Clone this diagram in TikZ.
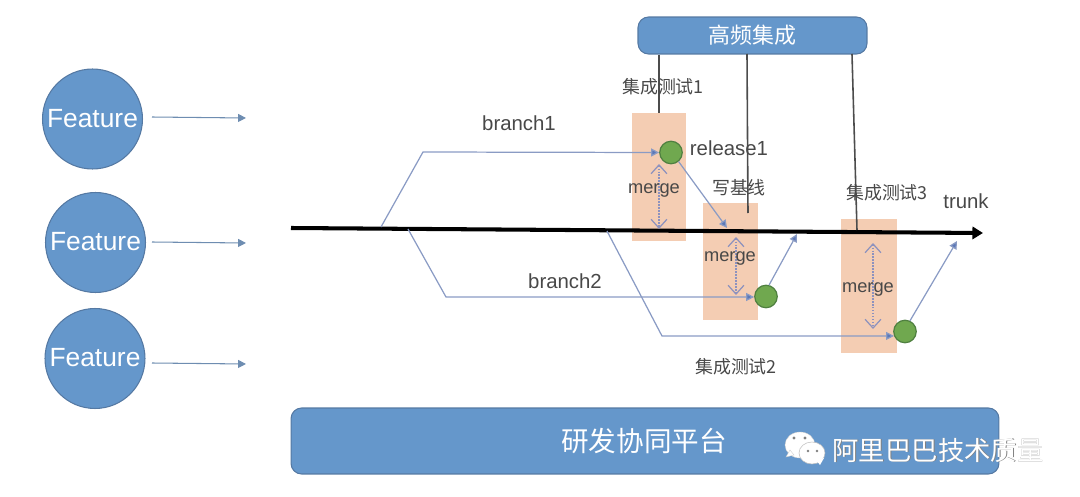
\documentclass[tikz,border=0pt]{standalone}
\usepackage{fontspec}
\setsansfont{Liberation Sans}
\newfontfamily\cjk{Noto Sans CJK SC}
\usepackage{tikz}
\usetikzlibrary{arrows.meta}
\definecolor{boxblue}{HTML}{6597CB}
\definecolor{edgeblue}{HTML}{5579A3}
\definecolor{linkblue}{HTML}{8A9BC4}
\definecolor{tipblue}{HTML}{5B78B8}
\definecolor{mergeblue}{HTML}{8D92BE}
\definecolor{mergebg}{HTML}{F4CDB3}
\definecolor{ballgreen}{HTML}{70A84F}
\definecolor{balledge}{HTML}{4F8040}
\definecolor{txtgray}{HTML}{484848}
\tikzstyle{feature} = [circle, draw=edgeblue, fill=boxblue, line width=0.6pt, minimum size=2cm, inner sep=0pt, text=white, font=\sffamily\fontsize{15}{15}\selectfont]
\tikzstyle{platform} = [rectangle, rounded corners=6pt, draw=edgeblue, fill=boxblue, line width=0.6pt, inner sep=0pt, text=white]
\tikzstyle{mergebox} = [rectangle, fill=mergebg, inner sep=0pt]
\tikzstyle{ball} = [circle, draw=balledge, fill=ballgreen, line width=0.7pt, minimum size=0.45cm, inner sep=0pt]
\tikzstyle{label} = [text=txtgray, inner sep=0pt, font=\sffamily\fontsize{11.6}{12}\selectfont]
\tikzstyle{mergelabel} = [text=txtgray, inner sep=0pt, font=\sffamily\fontsize{10.4}{12}\selectfont]
\tikzstyle{cjklabel} = [text=txtgray, inner sep=0pt, font=\cjk\fontsize{10.2}{12}\selectfont]
\tikzstyle{line} = [draw, linkblue, line width=0.7pt, -{Triangle[length=4.5pt,width=4.5pt,fill=tipblue]}]
\tikzstyle{feed} = [draw, edgeblue!85!white, line width=0.6pt, -{Triangle[length=4.5pt,width=4.5pt]}]
\tikzstyle{mergearrow} = [draw, mergeblue, densely dotted, line width=0.7pt, {Straight Barb[length=5pt,width=9pt]}-{Straight Barb[length=5pt,width=9pt]}]
\tikzstyle{probe} = [draw, black!70, line width=0.9pt]

\begin{document}
\begin{tikzpicture}[x=0.02cm,y=-0.02cm]
	\useasboundingbox (0,0) rectangle (1080,497);

	% ------------------- Feature circles ------------------- %
	\node[feature] (feature1) at (92.5,119) {\raisebox{1.2pt}{Feature}};
	\node[feature] (feature2) at (95.5,242.5) {\raisebox{1.2pt}{Feature}};
	\node[feature] (feature3) at (95,358.5) {\raisebox{1.2pt}{Feature}};

	\coordinate (in1) at (152,117);
	\coordinate (in2) at (152,242);
	\coordinate (in3) at (152,363);
	\coordinate (out1) at (246,118);
	\coordinate (out2) at (246,243);
	\coordinate (out3) at (246,364);
	\draw[feed] (in1) -- (out1);
	\draw[feed] (in2) -- (out2);
	\draw[feed] (in3) -- (out3);

	% ------------------- Platforms ------------------- %
	\node[platform, minimum width=4.58cm, minimum height=0.74cm] (hifreq) at (752.5,35.5) {\cjk\fontsize{12.5}{14}\selectfont 高频集成};
	\node[platform, minimum width=14.16cm, minimum height=1.32cm] (devplat) at (645,441) {};
	\node[text=white, inner sep=0pt, font=\cjk\fontsize{15.7}{18}\selectfont] (devtext) at (644,441) {研发协同平台};

	% ------------------- Merge windows ------------------- %
	\node[mergebox, minimum width=1.08cm, minimum height=2.56cm] (win1) at (659,177) {};
	\node[mergebox, minimum width=1.10cm, minimum height=2.34cm] (win2) at (730.5,261.5) {};
	\node[mergebox, minimum width=1.12cm, minimum height=2.68cm] (win3) at (869,286) {};

	% ------------------- Trunk ------------------- %
	\coordinate (trunkstart) at (291,228);
	\coordinate (trunkend) at (983,233);
	\draw[line width=2.3pt, -{Triangle[length=6pt,width=7pt]}] (trunkstart) -- (trunkend);
	\node[label] (trunk) at (966,201) {trunk};

	% ------------------- Release points ------------------- %
	\node[ball] (rel1) at (671,152.5) {};
	\node[ball] (rel2) at (766,296.5) {};
	\node[ball] (rel3) at (905,331.5) {};

	% ------------------- Branch lines ------------------- %
	\coordinate (fork1) at (381,227);
	\coordinate (knee1) at (423,152);
	\coordinate (fork2) at (408,229);
	\coordinate (knee2) at (446,297);
	\coordinate (fork3) at (607,231);
	\coordinate (knee3) at (662,336);
	\draw[line] (fork1) -- (knee1) -- (rel1.west);
	\draw[line] (fork2) -- (knee2) -- (rel2.west |- knee2);
	\draw[line] (fork3) -- (knee3) -- (rel3.202);

	\coordinate (join1) at (727,228);
	\coordinate (join2) at (797,234);
	\coordinate (join3) at (957,241);
	\draw[line] (rel1.-50) -- (join1);
	\draw[line] (rel2.75) -- (join2);
	\draw[line] (rel3.65) -- (join3);

	% ------------------- Merge arrows ------------------- %
	\coordinate (m1a) at (659,164);
	\coordinate (m1b) at (659,229);
	\coordinate (m2a) at (736,237);
	\coordinate (m2b) at (736,295);
	\coordinate (m3a) at (873,243);
	\coordinate (m3b) at (873,329);
	\draw[mergearrow] (m1a) -- (m1b);
	\draw[mergearrow] (m2a) -- (m2b);
	\draw[mergearrow] (m3a) -- (m3b);
	\node[mergelabel] (merge1) at (654,190) {merge};
	\node[mergelabel] (merge2) at (730,258) {merge};
	\node[mergelabel] (merge3) at (868,289) {merge};

	% ------------------- Vertical lines from the top box ------------------- %
	\coordinate (top2) at (747,54);
	\coordinate (top3) at (852,54);
	\coordinate (foot2) at (748,213);
	\coordinate (foot3) at (857,230);
	\draw[probe] (hifreq.south -| win1.north) -- (win1.north);
	\draw[probe] (top2) -- (foot2);
	\draw[probe] (top3) -- (foot3);

	% ------------------- Labels ------------------- %
	\node[label] (branch1) at (519,123) {branch1};
	\node[label] (branch2) at (565,281) {branch2};
	\node[label] (release1) at (729,148) {release1};
	\node[cjklabel] (test1) at (663,87) {集成测试1};
	\node[cjklabel] (baseline) at (739,188) {写基线};
	\node[cjklabel] (test3) at (887,193) {集成测试3};
	\node[cjklabel] (test2) at (736,367) {集成测试2};

	% ------------------- Chat icon + text in the corner ------------------- %
	\fill[white, draw=gray!40, line width=0.2pt] (800,445) ellipse (15 and 13);
	\fill[white, draw=gray!40, line width=0.2pt] (786,457) -- (790,450) -- (794,455) -- cycle;
	\fill[white, draw=gray!50, line width=0.3pt] (812,453) ellipse (13 and 11);
	\fill[white] (820,465) -- (816,460) -- (824,458) -- cycle;
	\fill[gray] (794,438) circle (1.6) (805,438) circle (1.6) (808,451) circle (1.4) (817,451) circle (1.4);
	\node[text=black!50, inner sep=0pt, font=\cjk\fontsize{15}{18}\selectfont] (markshade) at (938.8,450.8) {阿里巴巴技术质量};
	\node[text=white, inner sep=0pt, font=\cjk\fontsize{15}{18}\selectfont] (marktext) at (938,450) {阿里巴巴技术质量};
\end{tikzpicture}
\end{document}
